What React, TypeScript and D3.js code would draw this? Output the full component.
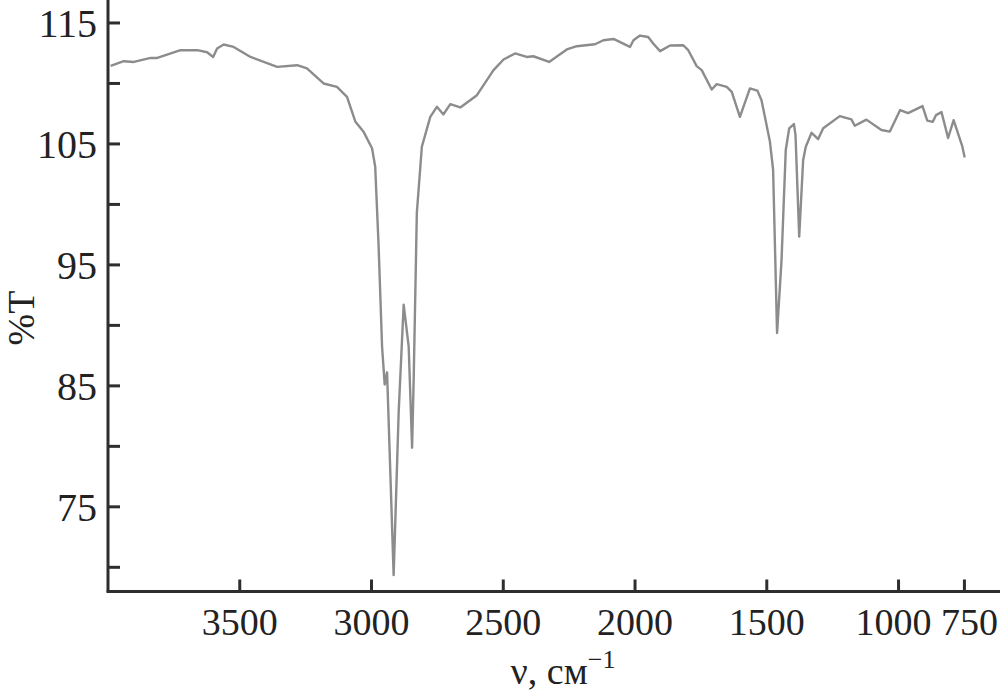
import React from "react";
import * as d3 from "d3";

const wavenumbers = [
  3990, 3940, 3902, 3838, 3813, 3725, 3661, 3624, 3601, 3586, 3561, 3523, 3459, 3358, 3282, 3245,
  3182, 3131, 3093, 3061, 3030, 2998, 2986, 2973, 2960, 2950, 2941, 2916, 2897, 2878, 2859, 2846,
  2840, 2828, 2809, 2777, 2752, 2727, 2701, 2663, 2600, 2537, 2499, 2455, 2411, 2386, 2326, 2259,
  2221, 2152, 2120, 2082, 2019, 2006, 1981, 1950, 1931, 1905, 1867, 1817, 1798, 1766, 1747, 1709,
  1690, 1652, 1633, 1602, 1564, 1536, 1520, 1488, 1476, 1461, 1444, 1428, 1415, 1397, 1391, 1377,
  1362, 1352, 1330, 1305, 1286, 1223, 1179, 1166, 1122, 1065, 1033, 994, 964, 909, 891, 870, 858,
  837, 812, 791, 758, 749,
];
const transmittance = [
  111.45, 111.84, 111.78, 112.11, 112.11, 112.75, 112.75, 112.58, 112.19, 112.89, 113.22, 113.02,
  112.19, 111.37, 111.51, 111.24, 110.0, 109.72, 108.89, 106.83, 106.0, 104.64, 103.12, 96.52,
  88.27, 85.11, 86.12, 69.35, 82.8, 91.71, 88.27, 79.89, 85.52, 99.3, 104.77, 107.24, 108.07,
  107.44, 108.29, 108.02, 109.03, 111.1, 111.98, 112.48, 112.19, 112.25, 111.78, 112.81, 113.08,
  113.24, 113.57, 113.68, 113.02, 113.57, 113.96, 113.84, 113.3, 112.67, 113.14, 113.16, 112.75,
  111.43, 111.1, 109.5, 109.94, 109.72, 109.31, 107.24, 109.59, 109.41, 108.62, 105.18, 102.85,
  89.37, 95.42, 104.5, 106.29, 106.64, 105.73, 97.34, 103.67, 104.77, 105.92, 105.4, 106.29, 107.3,
  107.03, 106.5, 107.01, 106.15, 106.02, 107.8, 107.55, 108.13, 106.93, 106.83, 107.38, 107.63,
  105.49, 106.97, 104.79, 103.88,
];
const xTicks = [3500, 3000, 2500, 2000, 1500, 1000, 750];
const yMajorTicks = [115, 105, 95, 85, 75];
const yMinorTicks = [110, 100, 90, 80, 70];

const W = 1008;
const H = 692;
const left = 108;
const right = 1000;
const bottom = 591.5;
const top = 0;

export default function App() {
  const x = d3.scaleLinear().domain([4000, 615]).range([left, right]);
  const y = d3.scaleLinear().domain([68, 116.9]).range([bottom, top]);
  const data = wavenumbers.map((w, i) => [w, transmittance[i]] as [number, number]);
  const line = d3
    .line<[number, number]>()
    .x((d) => x(d[0]))
    .y((d) => y(d[1]));
  const axisColor = "#2e2e2e";
  const font = "'Liberation Serif', 'Times New Roman', serif";
  const tickLen = 12;
  const labelNudge = (t: number) => (t === 1000 ? -5 : t === 750 ? 5 : 0);
  return (
    <svg
      width={W}
      height={H}
      style={{ position: "fixed", left: 0, top: 0, background: "#fff" }}
      fontFamily={font}
    >
      <rect width={W} height={H} fill="#fff" />
      <path d={line(data) || ""} fill="none" stroke="#8c8c8c" strokeWidth={2.4} strokeLinejoin="round" />
      <line x1={left} y1={top} x2={left} y2={bottom} stroke={axisColor} strokeWidth={3} />
      <line x1={left - 1.5} y1={bottom} x2={right} y2={bottom} stroke={axisColor} strokeWidth={3} />
      {[...yMajorTicks, ...yMinorTicks].map((t) => (
        <line key={"yt" + t} x1={left} x2={left + tickLen} y1={y(t)} y2={y(t)} stroke={axisColor} strokeWidth={3} />
      ))}
      {yMajorTicks.map((t) => (
        <text key={"yl" + t} x={97} y={y(t)} dy="0.35em" textAnchor="end" fontSize={40} fill="#222">
          {t}
        </text>
      ))}
      {xTicks.map((t) => (
        <g key={"xt" + t}>
          <line x1={x(t)} x2={x(t)} y1={bottom} y2={bottom - tickLen} stroke={axisColor} strokeWidth={3} />
          <text x={x(t) + labelNudge(t)} y={635} textAnchor="middle" fontSize={38} fill="#222">
            {t}
          </text>
        </g>
      ))}
      <text
        transform={`translate(34, 318) rotate(-90)`}
        textAnchor="middle"
        fontSize={38}
        fill="#222"
      >
        %T
      </text>
      <text x={563} y={684} textAnchor="middle" fontSize={38} fill="#222">
        ν, см<tspan dy={-16} fontSize={26}>−1</tspan>
      </text>
    </svg>
  );
}
